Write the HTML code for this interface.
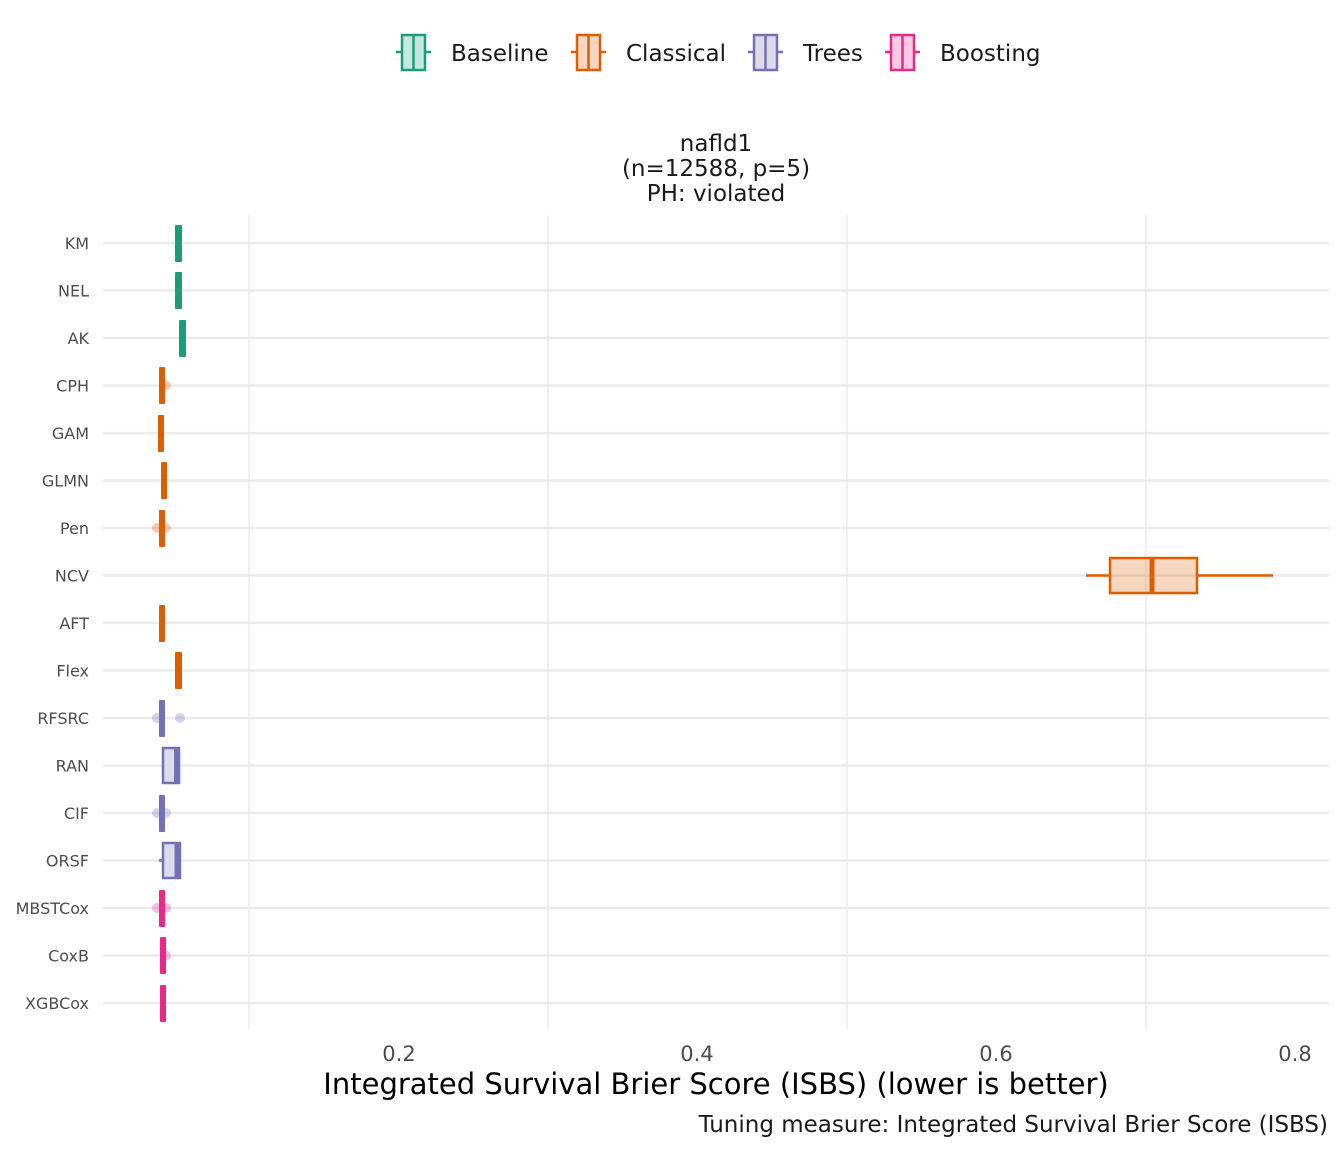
<!DOCTYPE html>
<html><head><meta charset="utf-8"><style>
html,body{margin:0;padding:0;background:#fff;}
svg text{font-family:"DejaVu Sans","Liberation Sans",sans-serif;}
</style></head><body>
<svg width="1344" height="1152" viewBox="0 0 1344 1152" xmlns="http://www.w3.org/2000/svg">
<rect width="1344" height="1152" fill="#fff"/>
<!-- legend -->
<g stroke-width="2.5">
<line x1="396" y1="52" x2="431" y2="52" stroke="#1b9e77"/><rect x="402" y="35" width="23" height="35" fill="#c6e7dd" stroke="#1b9e77"/><line x1="413.5" y1="35" x2="413.5" y2="70" stroke="#1b9e77"/>
<line x1="571" y1="52" x2="606" y2="52" stroke="#d95f02"/><rect x="577" y="35" width="23" height="35" fill="#f6d6c0" stroke="#d95f02"/><line x1="588.5" y1="35" x2="588.5" y2="70" stroke="#d95f02"/>
<line x1="748" y1="52" x2="783" y2="52" stroke="#7570b3"/><rect x="754" y="35" width="23" height="35" fill="#dcdbec" stroke="#7570b3"/><line x1="765.5" y1="35" x2="765.5" y2="70" stroke="#7570b3"/>
<line x1="885" y1="52" x2="920" y2="52" stroke="#e7298a"/><rect x="891" y="35" width="23" height="35" fill="#f9cae2" stroke="#e7298a"/><line x1="902.5" y1="35" x2="902.5" y2="70" stroke="#e7298a"/>
</g>
<g font-size="23" fill="#1a1a1a">
<text x="451" y="61">Baseline</text><text x="626" y="61">Classical</text><text x="803" y="61">Trees</text><text x="940" y="61">Boosting</text>
</g>
<!-- title -->
<g font-size="23" fill="#1a1a1a" text-anchor="middle">
<text x="716" y="151">nafld1</text><text x="716" y="176">(n=12588, p=5)</text><text x="716" y="201">PH: violated</text>
</g>
<!-- grid -->
<g stroke="#ebebeb" stroke-width="1.5">
<line x1="249" y1="215" x2="249" y2="1030"/><line x1="548" y1="215" x2="548" y2="1030"/><line x1="847" y1="215" x2="847" y2="1030"/><line x1="1146" y1="215" x2="1146" y2="1030"/>
</g>
<g stroke="#ebebeb" stroke-width="2.5">
<line x1="103" x2="1329" y1="243" y2="243"/><line x1="103" x2="1329" y1="290.5" y2="290.5"/><line x1="103" x2="1329" y1="338" y2="338"/><line x1="103" x2="1329" y1="385.5" y2="385.5"/><line x1="103" x2="1329" y1="433" y2="433"/><line x1="103" x2="1329" y1="480.5" y2="480.5"/><line x1="103" x2="1329" y1="528" y2="528"/><line x1="103" x2="1329" y1="575.5" y2="575.5"/><line x1="103" x2="1329" y1="623" y2="623"/><line x1="103" x2="1329" y1="670.5" y2="670.5"/><line x1="103" x2="1329" y1="718" y2="718"/><line x1="103" x2="1329" y1="765.5" y2="765.5"/><line x1="103" x2="1329" y1="813" y2="813"/><line x1="103" x2="1329" y1="860.5" y2="860.5"/><line x1="103" x2="1329" y1="908" y2="908"/><line x1="103" x2="1329" y1="955.5" y2="955.5"/><line x1="103" x2="1329" y1="1003" y2="1003"/>
</g>
<!-- y labels -->
<g font-size="16" fill="#4d4d4d" text-anchor="end">
<text x="89" y="249">KM</text><text x="89" y="296.5">NEL</text><text x="89" y="344">AK</text><text x="89" y="391.5">CPH</text><text x="89" y="439">GAM</text><text x="89" y="486.5">GLMN</text><text x="89" y="534">Pen</text><text x="89" y="581.5">NCV</text><text x="89" y="629">AFT</text><text x="89" y="676.5">Flex</text><text x="89" y="724">RFSRC</text><text x="89" y="771.5">RAN</text><text x="89" y="819">CIF</text><text x="89" y="866.5">ORSF</text><text x="89" y="914">MBSTCox</text><text x="89" y="961.5">CoxB</text><text x="89" y="1009">XGBCox</text>
</g>
<!-- outliers -->
<g fill-opacity="0.3">
<circle cx="166" cy="385.5" r="5" fill="#d95f02"/>
<circle cx="157" cy="528" r="5" fill="#d95f02"/><circle cx="166" cy="528" r="5" fill="#d95f02"/>
<circle cx="157" cy="718" r="5" fill="#7570b3"/><circle cx="180" cy="718" r="5" fill="#7570b3"/>
<circle cx="157" cy="813" r="5" fill="#7570b3"/><circle cx="166" cy="813" r="5" fill="#7570b3"/>
<circle cx="157" cy="908" r="5" fill="#e7298a"/><circle cx="166" cy="908" r="5" fill="#e7298a"/>
<circle cx="166" cy="955.5" r="5" fill="#e7298a"/>
</g>
<!-- thin boxes -->
<g>
<rect x="175" y="225" width="7" height="37" rx="1" fill="#1b9e77"/>
<rect x="175" y="272" width="7" height="37" rx="1" fill="#1b9e77"/>
<rect x="179" y="320" width="7" height="37" rx="1" fill="#1b9e77"/>
<rect x="159" y="367" width="6" height="37" rx="1" fill="#d95f02"/>
<rect x="158" y="415" width="6" height="37" rx="1" fill="#d95f02"/>
<rect x="161" y="462" width="6" height="37" rx="1" fill="#d95f02"/>
<rect x="159" y="510" width="6" height="37" rx="1" fill="#d95f02"/>
<rect x="159" y="605" width="6" height="37" rx="1" fill="#d95f02"/>
<rect x="175" y="652" width="7" height="37" rx="1" fill="#d95f02"/>
<rect x="159" y="700" width="6" height="37" rx="1" fill="#7570b3"/>
<rect x="159" y="795" width="6" height="37" rx="1" fill="#7570b3"/>
<rect x="159" y="890" width="6" height="37" rx="1" fill="#e7298a"/>
<rect x="160" y="937" width="6" height="37" rx="1" fill="#e7298a"/>
<rect x="160" y="985" width="6" height="37" rx="1" fill="#e7298a"/>
</g>
<!-- RAN / ORSF -->
<g stroke="#7570b3" stroke-width="2.5">
<rect x="163" y="748" width="16" height="35" fill="#dcdbec"/>
<line x1="176.5" y1="748" x2="176.5" y2="783" stroke-width="5"/>
<line x1="159" y1="860.5" x2="163" y2="860.5"/>
<rect x="163" y="843" width="17" height="35" fill="#dcdbec"/>
<line x1="177" y1="843" x2="177" y2="878" stroke-width="5"/>
</g>
<!-- NCV -->
<g stroke="#d95f02" stroke-width="2.5">
<line x1="1086" y1="575.5" x2="1110" y2="575.5"/><line x1="1197" y1="575.5" x2="1273" y2="575.5"/>
<rect x="1110" y="558" width="87" height="35" fill="#d95f02" fill-opacity="0.25"/>
<line x1="1152" y1="558" x2="1152" y2="593" stroke-width="5"/>
</g>
<!-- x axis -->
<g font-size="21" fill="#4d4d4d" text-anchor="middle">
<text x="399" y="1061">0.2</text><text x="697" y="1061">0.4</text><text x="996" y="1061">0.6</text><text x="1295" y="1061">0.8</text>
</g>
<text x="716" y="1094" font-size="29" fill="#000" text-anchor="middle">Integrated Survival Brier Score (ISBS) (lower is better)</text>
<text x="1328" y="1132" font-size="23" fill="#1a1a1a" text-anchor="end">Tuning measure: Integrated Survival Brier Score (ISBS)</text>
</svg>
</body></html>
